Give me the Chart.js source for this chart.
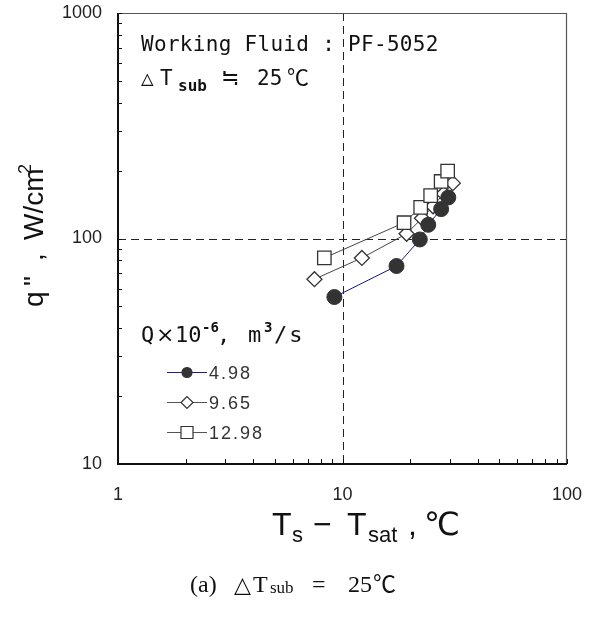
<!DOCTYPE html>
<html>
<head>
<meta charset="utf-8">
<script src="https://cdn.jsdelivr.net/npm/chart.js@4.4.0/dist/chart.umd.min.js"></script>
<style>
  html, body { margin: 0; padding: 0; background: #fff; }
  #wrap { position: relative; width: 595px; height: 619px; }
</style>
</head>
<body>
<div id="wrap"><canvas id="heatFlux" width="595" height="619"></canvas></div>
<script>
// Series (log-log axes)
const seriesNames = ['4.98', '9.65', '12.98'];
const dtLow = [9.2, 17.4, 22.1, 24.1, 27.5, 29.6];
const qLow = [55, 75.5, 99, 115, 135, 152];
const dtMid = [7.5, 12.2, 19.3, 22.6, 25.3, 28.2, 31.0];
const qMid = [66, 82, 105, 123, 139, 158, 176];
const dtHigh = [8.3, 18.8, 22.3, 24.7, 27.5, 29.4];
const qHigh = [82, 117.5, 137.5, 155, 179, 199];

// Axis ticks
const xTickValues = [1, 2, 3, 4, 5, 6, 7, 8, 9, 10, 20, 30, 40, 50, 60, 70, 80, 90, 100];
const yTickValues = [10, 20, 30, 40, 50, 60, 70, 80, 90, 100, 200, 300, 400, 500, 600, 700, 800, 900, 1000];
const xTickLabels = [1, 10, 100];
const yTickLabels = [10, 100, 1000];

// Dashed reference lines
const refX = 10;
const refY = 100;

const MONO = '21px "DejaVu Sans Mono", "Noto Sans CJK KR", monospace';
const MONO22 = '22px "DejaVu Sans Mono", monospace';
const CJK = '22px "Noto Sans CJK KR", sans-serif';
const INK = '#111';

function toPoints(xs, ys) {
    return xs.map((x, i) => ({ x: x, y: ys[i] }));
}

// Draw a list of text runs placed at given x offsets
function drawRuns(ctx, x0, y, list) {
    list.forEach(r => {
        ctx.font = r.font || MONO;
        ctx.letterSpacing = r.ls || '0px';
        ctx.fillText(r.t, x0 + r.x, y + (r.dy || 0));
    });
    ctx.letterSpacing = '0px';
}

function noScalePadding(s) {
    s.paddingLeft = 0;
    s.paddingRight = 0;
    s.paddingTop = 0;
    s.paddingBottom = 0;
}

const datasets = [
    {
        label: seriesNames[2],
        data: toPoints(dtHigh, qHigh),
        showLine: true,
        borderColor: '#444',
        borderWidth: 1,
        pointStyle: 'rect',
        pointRadius: 9.5,
        pointBackgroundColor: '#fff',
        pointBorderColor: '#333',
        pointBorderWidth: 1.3,
        order: 0
    },
    {
        label: seriesNames[0],
        data: toPoints(dtLow, qLow),
        showLine: true,
        borderColor: '#1c1c8c',
        borderWidth: 1,
        pointStyle: 'circle',
        pointRadius: 7.5,
        pointBackgroundColor: '#333',
        pointBorderColor: '#333',
        pointBorderWidth: 1,
        order: 1
    },
    {
        label: seriesNames[1],
        data: toPoints(dtMid, qMid),
        showLine: true,
        borderColor: '#444',
        borderWidth: 1,
        pointStyle: 'rectRot',
        pointRadius: 7.5,
        pointBackgroundColor: '#fff',
        pointBorderColor: '#333',
        pointBorderWidth: 1.3,
        order: 2
    }
];

// Legend samples in the order shown on the figure
const legendItems = [
    { name: seriesNames[0], line: '#1c1c8c', style: 'circle', r: 5, fill: '#333' },
    { name: seriesNames[1], line: '#555', style: 'rectRot', r: 6, fill: '#fff' },
    { name: seriesNames[2], line: '#555', style: 'rect', r: 8.5, fill: '#fff' }
];

const decor = {
    id: 'decor',
    beforeDatasetsDraw(chart) {
        const { ctx, chartArea: a, scales: { x, y } } = chart;
        ctx.save();
        ctx.strokeStyle = '#222';
        ctx.lineWidth = 1;
        ctx.setLineDash([8, 5]);
        const px = Math.round(x.getPixelForValue(refX)) + 0.5;
        const py = Math.round(y.getPixelForValue(refY)) + 0.5;
        ctx.beginPath();
        ctx.moveTo(px, a.top);
        ctx.lineTo(px, a.bottom);
        ctx.moveTo(a.left, py);
        ctx.lineTo(a.right, py);
        ctx.stroke();
        ctx.restore();
    },
    afterDraw(chart) {
        const { ctx, chartArea: a, scales: { x, y } } = chart;
        ctx.save();

        // frame
        ctx.strokeStyle = '#555';
        ctx.lineWidth = 1.2;
        ctx.beginPath();
        ctx.moveTo(a.left, a.top + 0.5);
        ctx.lineTo(a.right - 0.5, a.top + 0.5);
        ctx.lineTo(a.right - 0.5, a.bottom);
        ctx.stroke();
        ctx.strokeStyle = '#111';
        ctx.lineWidth = 2;
        ctx.beginPath();
        ctx.moveTo(a.left, a.top);
        ctx.lineTo(a.left, a.bottom);
        ctx.lineTo(a.right, a.bottom);
        ctx.stroke();

        // inward tick marks
        ctx.lineWidth = 1;
        ctx.beginPath();
        xTickValues.forEach(v => {
            const p = Math.round(x.getPixelForValue(v)) + 0.5;
            ctx.moveTo(p, a.bottom);
            ctx.lineTo(p, a.bottom - 5);
        });
        yTickValues.forEach(v => {
            const p = Math.round(y.getPixelForValue(v)) + 0.5;
            ctx.moveTo(a.left, p);
            ctx.lineTo(a.left + 4, p);
        });
        ctx.stroke();

        ctx.fillStyle = INK;
        ctx.textBaseline = 'alphabetic';
        ctx.textAlign = 'left';

        // annotation
        drawRuns(ctx, 0, 51, [{ t: 'Working Fluid : PF-5052', x: 141, ls: '0.3px' }]);
        drawRuns(ctx, 0, 85, [
            { t: '\u25B3', x: 141 },
            { t: 'T', x: 160 },
            { t: 'sub', x: 178, font: 'bold 16px "DejaVu Sans Mono", monospace', dy: 6 },
            { t: '\u2252', x: 221, font: CJK },
            { t: '25', x: 257 },
            { t: '\u2103', x: 287, font: CJK }
        ]);

        // legend title
        const SUP = 'bold 14px "DejaVu Sans Mono", monospace';
        drawRuns(ctx, 0, 342, [
            { t: 'Q', x: 141, font: MONO22 },
            { t: '\u00D7', x: 156, font: '22px "DejaVu Sans", sans-serif' },
            { t: '10', x: 175, font: MONO22 },
            { t: '-6', x: 202, font: SUP, dy: -10 },
            { t: ',', x: 217, font: MONO22 },
            { t: 'm', x: 248, font: MONO22 },
            { t: '3', x: 264, font: SUP, dy: -10 },
            { t: '/s', x: 274, font: MONO22, ls: '2px' }
        ]);

        // legend entries
        legendItems.forEach((it, i) => {
            const cy = 372 + i * 30;
            ctx.strokeStyle = it.line;
            ctx.lineWidth = 1;
            ctx.beginPath();
            ctx.moveTo(167, cy + 0.5);
            ctx.lineTo(207, cy + 0.5);
            ctx.stroke();
            ctx.fillStyle = it.fill;
            ctx.strokeStyle = '#333';
            ctx.lineWidth = 1.2;
            Chart.helpers.drawPoint(ctx, { pointStyle: it.style, radius: it.r, rotation: 0, borderWidth: 1.2 }, 187, cy + 0.5);
            ctx.fillStyle = '#333';
            ctx.font = '18px "Liberation Sans", Arial, sans-serif';
            ctx.letterSpacing = '2px';
            ctx.fillText(it.name, 209, cy + 6.5);
            ctx.letterSpacing = '0px';
        });

        ctx.fillStyle = INK;

        // x-axis title
        const SANS = '32px "Liberation Sans", Arial, sans-serif';
        const SUB = '22px "Liberation Sans", Arial, sans-serif';
        drawRuns(ctx, 0, 535, [
            { t: 'T', x: 272, font: SANS },
            { t: 's', x: 292, font: SUB, dy: 7 },
            { t: '\u2212', x: 313, font: SANS },
            { t: 'T', x: 347, font: SANS },
            { t: 'sat', x: 368, font: SUB, dy: 7 },
            { t: ',', x: 408, font: SANS },
            { t: '\u2103', x: 424, font: '32px "DejaVu Sans", sans-serif' }
        ]);

        // y-axis title (rotated)
        ctx.save();
        ctx.translate(43, 307);
        ctx.rotate(-Math.PI / 2);
        const YT = '28px "Liberation Sans", Arial, sans-serif';
        drawRuns(ctx, 0, 0, [
            { t: 'q', x: 0, font: YT },
            { t: '"', x: 21, font: YT },
            { t: ',', x: 46, font: YT },
            { t: 'W/cm', x: 67, font: YT },
            { t: '2', x: 133, font: '18px "Liberation Sans", Arial, sans-serif', dy: -12 }
        ]);
        ctx.restore();

        // caption
        const SERIF = '24px "Liberation Serif", "Times New Roman", serif';
        drawRuns(ctx, 0, 592, [
            { t: '(a)', x: 190, font: SERIF },
            { t: '\u25B3', x: 234, font: '22px "DejaVu Sans", serif' },
            { t: 'T', x: 253, font: SERIF },
            { t: 'sub', x: 270, font: '17px "Liberation Serif", serif', dy: 1 },
            { t: '=', x: 312, font: SERIF },
            { t: '25', x: 348, font: SERIF },
            { t: '\u2103', x: 373, font: '23px "Noto Sans CJK KR", serif' }
        ]);

        ctx.restore();
    }
};

const tickFont = { family: '"Liberation Sans", Arial, sans-serif', size: 18 };

new Chart(document.getElementById('heatFlux'), {
    type: 'scatter',
    data: { datasets: datasets },
    options: {
        responsive: false,
        animation: false,
        devicePixelRatio: 1,
        layout: { padding: { top: 13, right: 28, left: 0, bottom: 0 } },
        plugins: { legend: { display: false }, tooltip: { enabled: false } },
        scales: {
            x: {
                type: 'logarithmic',
                min: 1,
                max: 100,
                grid: { display: false, drawTicks: false },
                border: { display: false },
                afterBuildTicks: s => { s.ticks = xTickValues.map(v => ({ value: v })); },
                afterFit: s => { s.height = 155; noScalePadding(s); },
                ticks: {
                    autoSkip: false,
                    maxRotation: 0,
                    padding: 20,
                    color: '#222',
                    font: tickFont,
                    callback: v => xTickLabels.includes(v) ? String(v) : ''
                }
            },
            y: {
                type: 'logarithmic',
                min: 10,
                max: 1000,
                grid: { display: false, drawTicks: false },
                border: { display: false },
                afterBuildTicks: s => { s.ticks = yTickValues.map(v => ({ value: v })); },
                afterFit: s => { s.width = 118; noScalePadding(s); },
                ticks: {
                    autoSkip: false,
                    padding: 16,
                    color: '#222',
                    font: tickFont,
                    callback: v => yTickLabels.includes(v) ? String(v) : ''
                }
            }
        }
    },
    plugins: [decor]
});
</script>
</body>
</html>
